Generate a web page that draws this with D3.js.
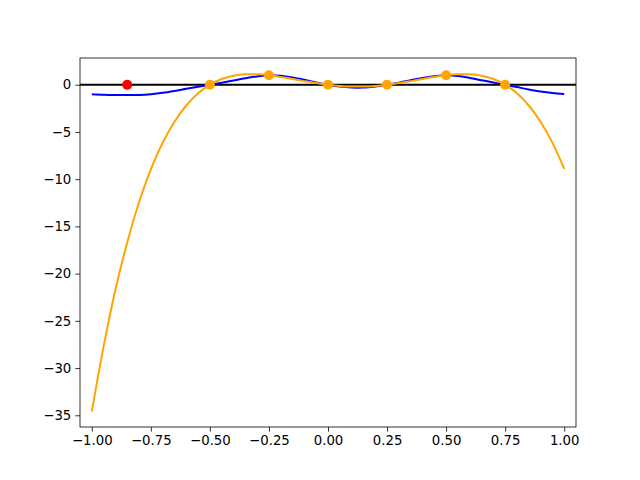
<!DOCTYPE html>
<html><head><meta charset="utf-8">
<script src="https://cdn.jsdelivr.net/npm/d3@7"></script>
<style>body{margin:0;background:#fff}svg{display:block}text{font-family:"DejaVu Sans";font-size:13.3px;fill:#000}</style>
</head><body>
<script>
const sampleX = [-1.0,-0.95,-0.9,-0.85,-0.8,-0.75,-0.7,-0.65,-0.6,-0.55,-0.5,-0.45,-0.4,-0.35,-0.3,-0.25,-0.2,-0.15,-0.1,-0.05,0.0,0.05,0.1,0.15,0.2,0.25,0.3,0.35,0.4,0.45,0.5,0.55,0.6,0.65,0.7,0.75,0.8,0.85,0.9,0.95,1.0];
const blueY = [-1.0,-1.06,-1.09,-1.1,-1.08,-1.0,-0.86,-0.66,-0.43,-0.21,0.0,0.22,0.45,0.68,0.88,1.0,0.95,0.78,0.52,0.25,0.0,-0.2,-0.3,-0.3,-0.18,0.0,0.22,0.48,0.72,0.9,1.0,0.92,0.72,0.48,0.24,0.0,-0.25,-0.5,-0.72,-0.88,-0.98];
const orangeY = [-34.6,-27.7,-21.7,-16.7,-12.45,-8.97,-6.15,-3.92,-2.2,-0.915,0.0,0.605,0.957,1.1,1.1,1.0,0.821,0.605,0.381,0.173,0.0,-0.123,-0.187,-0.187,-0.123,0.0,0.173,0.381,0.605,0.821,1.0,1.1,1.1,0.957,0.605,0.0,-0.915,-2.2,-3.92,-6.13,-8.9];
const nodeX = [-0.5,-0.25,0.0,0.25,0.5,0.75];
const nodeY = [0,1,0,0,1,0];
const redPoint = [-0.85, 0];
const xTicks = [-1.0,-0.75,-0.5,-0.25,0.0,0.25,0.5,0.75,1.0];
const yTicks = [0,-5,-10,-15,-20,-25,-30,-35];

const W=640,H=480, L=80, R=576, T=58, B=427;
const svg=d3.select("body").append("svg").attr("width",W).attr("height",H);
const x=d3.scaleLinear().domain([-1.05,1.05]).range([L,R]);
const y=d3.scaleLinear().domain([-36.24,2.83]).range([B,T]);

const g=svg.append("g");
g.append("defs").append("clipPath").attr("id","clip").append("rect").attr("x",L).attr("y",T).attr("width",R-L).attr("height",B-T);
const plot=g.append("g").attr("clip-path","url(#clip)");

plot.append("line").attr("x1",L).attr("x2",R).attr("y1",y(0)).attr("y2",y(0)).attr("stroke","#000").attr("stroke-width",2);

const line=d3.line().x(d=>x(d[0])).y(d=>y(d[1])).curve(d3.curveCatmullRom);
plot.append("path").datum(sampleX.map((v,i)=>[v,blueY[i]])).attr("d",line).attr("fill","none").attr("stroke","#0000ff").attr("stroke-width",2);
plot.append("path").datum(sampleX.map((v,i)=>[v,orangeY[i]])).attr("d",line).attr("fill","none").attr("stroke","#ffa500").attr("stroke-width",2);

plot.selectAll("circle.n").data(nodeX.map((v,i)=>[v,nodeY[i]])).enter().append("circle").attr("class","n")
 .attr("cx",d=>x(d[0])).attr("cy",d=>y(d[1])).attr("r",5).attr("fill","#ffa500");
plot.append("circle").attr("cx",x(redPoint[0])).attr("cy",y(redPoint[1])).attr("r",5).attr("fill","#ff0000");

const xa=g.append("g").attr("transform",`translate(0,${B})`).call(d3.axisBottom(x).tickValues(xTicks).tickFormat(d=>d3.format(".2f")(d).replace("-","\u2212")).tickSizeOuter(0).tickSize(4.7).tickPadding(4));
const ya=g.append("g").attr("transform",`translate(${L},0)`).call(d3.axisLeft(y).tickValues(yTicks).tickFormat(d=>String(d).replace("-","\u2212")).tickSizeOuter(0).tickSize(4.7).tickPadding(4));
[xa,ya].forEach(a=>{a.select(".domain").remove();a.selectAll("line").attr("stroke","#000").attr("stroke-width",0.8);a.selectAll("text").attr("font-family","DejaVu Sans").attr("font-size","13.3px").attr("fill","#000");});
g.append("rect").attr("x",L).attr("y",T).attr("width",R-L).attr("height",B-T).attr("fill","none").attr("stroke","#000").attr("stroke-width",0.8);
</script>
</body></html>
